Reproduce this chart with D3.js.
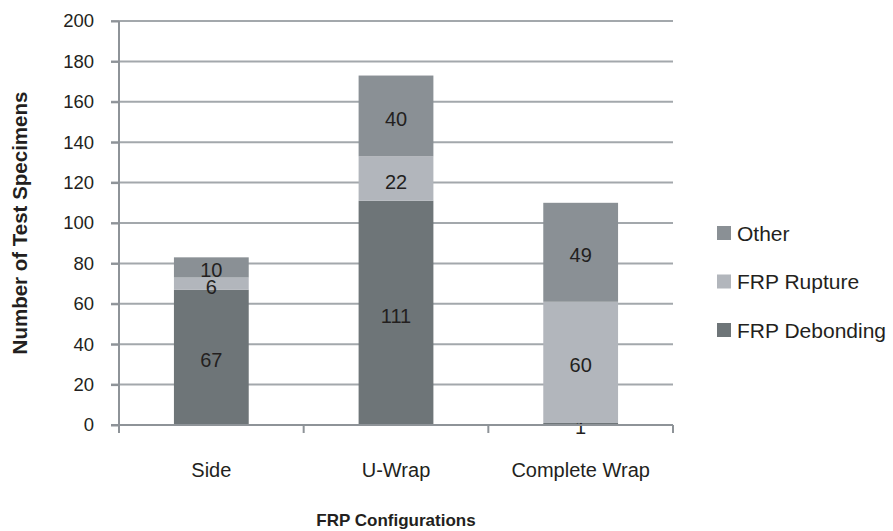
<!DOCTYPE html>
<html>
<head>
<meta charset="utf-8">
<script src="https://cdn.jsdelivr.net/npm/d3@7"></script>
<style>
  html, body { margin: 0; padding: 0; background: #fff; }
  svg { display: block; font-family: "Liberation Sans", Arial, sans-serif; }
</style>
</head>
<body>
<svg id="chart" width="893" height="531"></svg>
<script>
// Failure modes of FRP-strengthened specimens, by configuration
const categories = ["Side", "U-Wrap", "Complete Wrap"];
const seriesNames = ["FRP Debonding", "FRP Rupture", "Other"];
const debonding = [67, 111, 1];
const rupture = [6, 22, 60];
const other = [10, 40, 49];
const yTicks = [0, 20, 40, 60, 80, 100, 120, 140, 160, 180, 200];
const colors = ["#6e7578", "#b2b6bc", "#8a9095"];

const rows = categories.map((c, i) => ({
  category: c,
  "FRP Debonding": debonding[i],
  "FRP Rupture": rupture[i],
  "Other": other[i]
}));

const svg = d3.select("#chart");
const margin = { left: 119, right: 220, top: 21, bottom: 106 };
const W = 893, H = 531;
const plotW = W - margin.left - margin.right;
const plotH = H - margin.top - margin.bottom;

const x = d3.scaleBand().domain(categories).range([0, plotW]).paddingInner(0.595).paddingOuter(0.2975);
const xOuter = d3.scaleBand().domain(categories).range([0, plotW]);
const y = d3.scaleLinear().domain([0, 200]).range([plotH, 0]);

const g = svg.append("g").attr("transform", `translate(${margin.left},${margin.top})`);

const axisColor = "#8e9398";
const gridColor = "#a3a8ac";
const textColor = "#231f20";

// horizontal gridlines (extend left to form the tick marks)
g.append("g")
  .selectAll("line")
  .data(yTicks.filter(t => t > 0))
  .join("line")
  .attr("x1", -8).attr("x2", plotW)
  .attr("y1", d => y(d)).attr("y2", d => y(d))
  .attr("stroke", gridColor).attr("stroke-width", 2);

// stacked bars
const stack = d3.stack().keys(seriesNames)(rows);
const layers = g.append("g").selectAll("g")
  .data(stack)
  .join("g")
  .attr("fill", (d, i) => colors[i]);

layers.selectAll("rect")
  .data(d => d)
  .join("rect")
  .attr("x", d => x(d.data.category))
  .attr("width", x.bandwidth())
  .attr("y", d => y(d[1]))
  .attr("height", d => y(d[0]) - y(d[1]));

// y axis
const yAxis = d3.axisLeft(y).tickValues(yTicks).tickSize(8).tickPadding(17);
const yG = g.append("g").call(yAxis);
yG.select(".domain").attr("stroke", axisColor).attr("stroke-width", 2)
  .attr("d", `M0,${plotH + 8}V0`);
yG.selectAll(".tick line").attr("stroke", axisColor).attr("stroke-width", 2);
yG.selectAll(".tick text").attr("font-size", 18.5).attr("fill", textColor)
  .attr("font-family", "Liberation Sans, Arial, sans-serif");

// x axis baseline and category separators
const xG = g.append("g").attr("transform", `translate(0,${plotH})`);
xG.append("line").attr("x1", -8).attr("x2", plotW).attr("y1", 0).attr("y2", 0)
  .attr("stroke", axisColor).attr("stroke-width", 2);
const sepPositions = categories.map(c => xOuter(c)).concat([plotW]);
xG.selectAll("line.sep").data(sepPositions.slice(1)).join("line")
  .attr("class", "sep")
  .attr("x1", d => d).attr("x2", d => d).attr("y1", 0).attr("y2", 8)
  .attr("stroke", axisColor).attr("stroke-width", 2);
xG.selectAll("text.cat").data(categories).join("text")
  .attr("class", "cat")
  .attr("x", d => xOuter(d) + xOuter.bandwidth() / 2)
  .attr("y", 52)
  .attr("text-anchor", "middle")
  .attr("font-size", 20)
  .attr("fill", textColor)
  .text(d => d);

// value labels, centred in each segment
layers.selectAll("text")
  .data(d => d.map(s => ({ s, v: s[1] - s[0] })))
  .join("text")
  .attr("x", d => x(d.s.data.category) + x.bandwidth() / 2)
  .attr("y", d => (y(d.s[0]) + y(d.s[1])) / 2)
  .attr("dy", "0.5em")
  .attr("text-anchor", "middle")
  .attr("font-size", 20)
  .attr("fill", textColor)
  .text(d => d.v);

// axis titles
svg.append("text")
  .attr("transform", `translate(27,${margin.top + plotH / 2}) rotate(-90)`)
  .attr("text-anchor", "middle")
  .attr("font-size", 20.5)
  .attr("font-weight", "bold")
  .attr("fill", textColor)
  .text("Number of Test Specimens");

svg.append("text")
  .attr("x", margin.left + plotW / 2)
  .attr("y", 526)
  .attr("text-anchor", "middle")
  .attr("font-size", 17)
  .attr("font-weight", "bold")
  .attr("fill", textColor)
  .text("FRP Configurations");

// legend (top entry is the top segment)
const legendItems = seriesNames.slice().reverse();
const legend = svg.append("g").attr("transform", "translate(717,226)");
const li = legend.selectAll("g").data(legendItems).join("g")
  .attr("transform", (d, i) => `translate(0,${i * 48.5})`);
li.append("rect").attr("width", 14).attr("height", 14)
  .attr("fill", d => colors[seriesNames.indexOf(d)]);
li.append("text").attr("x", 20).attr("y", 7).attr("dy", "0.36em")
  .attr("font-size", 21).attr("fill", textColor).text(d => d);
</script>
</body>
</html>
